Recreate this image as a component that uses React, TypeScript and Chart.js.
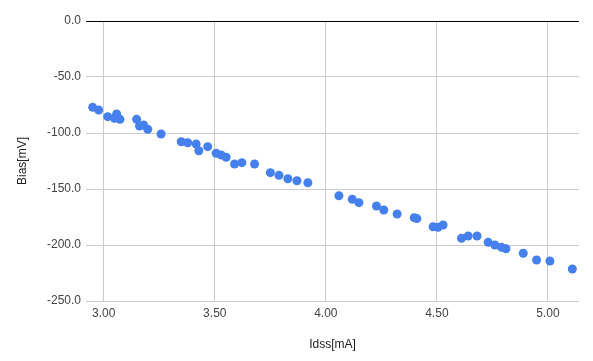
import React, { useEffect, useRef } from "react";
import { Chart, registerables } from "chart.js";

Chart.register(...registerables);

const idss: number[] = [
  2.950, 2.977, 3.018, 3.058, 3.048, 3.073, 3.148, 3.161, 3.179, 3.198,
  3.258, 3.349, 3.378, 3.416, 3.428, 3.468, 3.506, 3.529, 3.551, 3.589,
  3.622, 3.679, 3.750, 3.789, 3.829, 3.870, 3.919, 4.059, 4.119, 4.149,
  4.228, 4.261, 4.321, 4.398, 4.410, 4.483, 4.505, 4.528, 4.611, 4.641,
  4.681, 4.731, 4.761, 4.791, 4.811, 4.889, 4.949, 5.009, 5.110,
];

const bias: number[] = [
  -77.1, -79.5, -85.4, -83.0, -86.9, -87.8, -87.8, -93.8, -92.9, -96.7,
  -100.9, -107.8, -108.7, -109.8, -115.8, -112.2, -118.1, -119.6, -121.7, -127.7,
  -126.5, -127.7, -135.4, -137.8, -140.8, -142.6, -144.4, -156.0, -159.2, -162.2,
  -165.2, -168.8, -172.3, -175.6, -176.4, -183.7, -184.2, -182.1, -194.0, -192.0,
  -192.0, -197.6, -200.0, -202.1, -203.3, -207.4, -213.4, -214.3, -221.4,
];

const xTickValues: number[] = [3.0, 3.5, 4.0, 4.5, 5.0];
const yTickValues: number[] = [0, -50, -100, -150, -200, -250];

const xTitle = "Idss[mA]";
const yTitle = "Bias[mV]";

export default function App() {
  const canvasRef = useRef<HTMLCanvasElement | null>(null);

  useEffect(() => {
    const canvas = canvasRef.current;
    if (!canvas) return;
    const points = idss.map((x, i) => ({ x, y: bias[i] }));
    const font = { family: "'Liberation Sans', Arial, sans-serif", size: 12 };

    const chart = new Chart(canvas, {
      type: "scatter",
      data: {
        datasets: [
          {
            data: points,
            backgroundColor: "#4580ee",
            borderColor: "#4580ee",
            borderWidth: 0,
            pointRadius: 4.5,
            pointHoverRadius: 4.5,
          },
        ],
      },
      options: {
        animation: false,
        responsive: false,
        devicePixelRatio: 1,
        events: [],
        layout: { padding: { top: 21, right: 14, left: 0, bottom: 0 } },
        plugins: {
          legend: { display: false },
          tooltip: { enabled: false },
        },
        scales: {
          x: {
            type: "linear",
            min: 2.92,
            max: 5.14,
            afterFit: (scale: any) => {
              scale.height = 60;
            },
            afterBuildTicks: (scale: any) => {
              scale.ticks = xTickValues.map((v) => ({ value: v }));
            },
            ticks: {
              includeBounds: false,
              padding: 5,
              color: "#444",
              font,
              maxRotation: 0,
              callback: (v: any) => Number(v).toFixed(2),
            },
            grid: {
              color: "#cccccc",
              lineWidth: 1,
              drawTicks: false,
            },
            border: { display: false },
            title: {
              display: true,
              text: xTitle,
              color: "#222",
              font,
              padding: { top: 0, bottom: 9 },
            },
          },
          y: {
            type: "linear",
            min: -250,
            max: 0,
            afterFit: (scale: any) => {
              scale.width = 86;
            },
            afterBuildTicks: (scale: any) => {
              scale.ticks = yTickValues.map((v) => ({ value: v }));
            },
            ticks: {
              padding: 5,
              color: "#444",
              font,
              callback: (v: any) => Number(v).toFixed(1),
            },
            grid: {
              color: (ctx: any) =>
                ctx.tick && ctx.tick.value === 0 ? "#000000" : "#cccccc",
              lineWidth: 1,
              drawTicks: false,
            },
            border: { display: false },
            title: {
              display: true,
              text: yTitle,
              color: "#222",
              font,
              padding: { top: 15, bottom: 0 },
            },
          },
        },
      },
    } as any);

    return () => chart.destroy();
  }, []);

  return (
    <div
      style={{
        position: "absolute",
        left: 0,
        top: 0,
        width: 593,
        height: 361,
        background: "#ffffff",
      }}
    >
      <canvas
        ref={canvasRef}
        width={593}
        height={361}
        style={{ display: "block", width: 593, height: 361 }}
      />
    </div>
  );
}
